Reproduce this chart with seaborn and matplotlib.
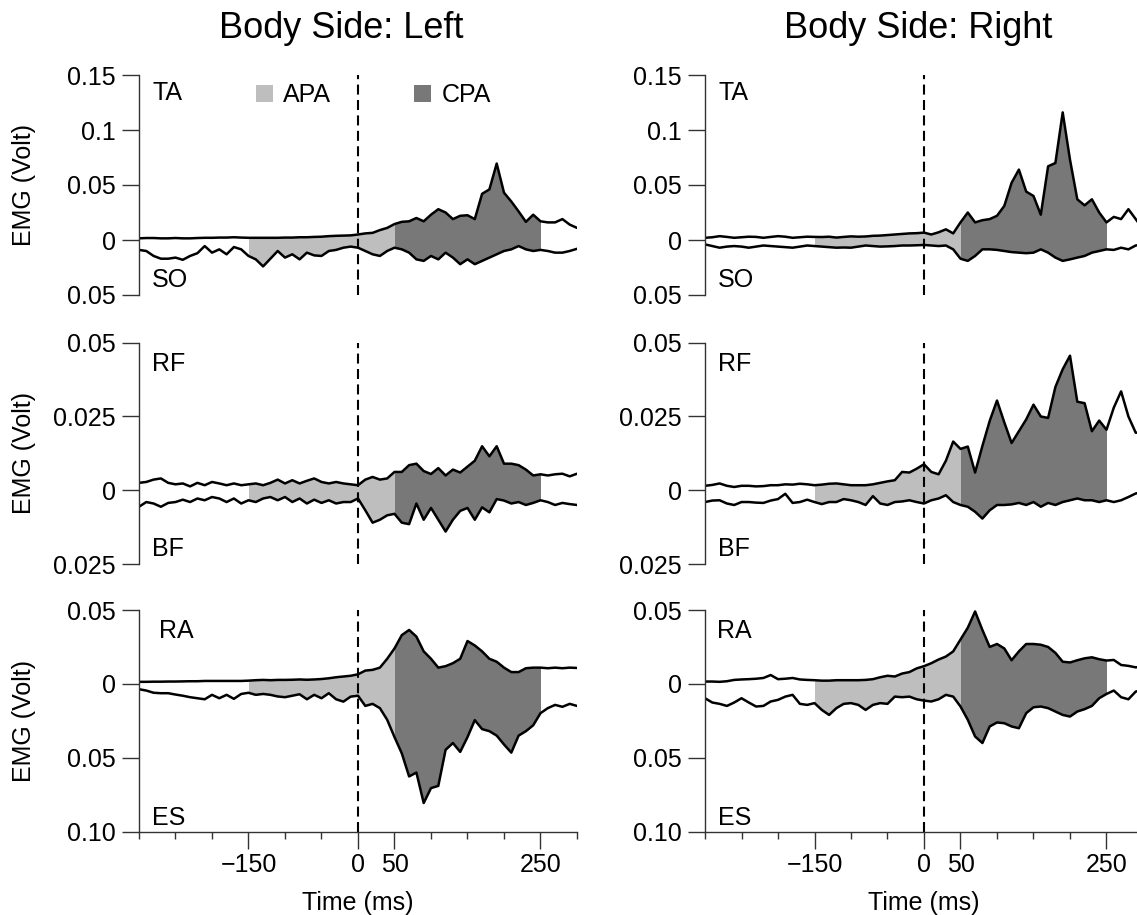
import numpy as np
import matplotlib
matplotlib.use("Agg")
import matplotlib.pyplot as plt
import seaborn as sns
from matplotlib.patches import Patch

# time axis (ms), one value every 10 ms
time_ms = np.arange(-300, 301, 10)

# EMG envelopes (Volt); lower muscles stored as magnitudes
TA_L = [.0015, .0018, .0018, .0015, .0015, .0018, .0015, .0015, .0018, .0020,
        .0020, .0022, .0022, .0025, .0022, .0020, .0020, .0020, .0020, .0020,
        .0022, .0022, .0025, .0025, .0028, .0030, .0035, .0038, .0040, .0042,
        .0050, .0060, .0065, .0090, .0110, .0145, .0165, .0170, .0200, .0170,
        .0230, .0280, .0250, .0190, .0220, .0225, .0190, .0420, .0460, .0695,
        .0430, .0350, .0260, .0165, .0230, .0170, .0160, .0160, .0190, .0140,
        .0110]
SO_L = [.0090, .0100, .0145, .0170, .0170, .0160, .0180, .0145, .0120, .0055,
        .0115, .0085, .0130, .0064, .0085, .0145, .0176, .0240, .0170, .0100,
        .0160, .0130, .0176, .0115, .0140, .0145, .0100, .0090, .0070, .0060,
        .0070, .0100, .0130, .0145, .0100, .0070, .0085, .0115, .0176, .0190,
        .0145, .0176, .0115, .0160, .0220, .0176, .0220, .0190, .0160, .0130,
        .0100, .0085, .0055, .0085, .0100, .0090, .0100, .0115, .0115, .0100,
        .0080]
TA_R = [.0020, .0025, .0035, .0028, .0020, .0025, .0030, .0028, .0020, .0028,
        .0035, .0030, .0020, .0025, .0030, .0028, .0027, .0030, .0022, .0028,
        .0033, .0030, .0032, .0038, .0040, .0045, .0050, .0055, .0060, .0062,
        .0067, .0050, .0070, .0097, .0060, .0160, .0250, .0160, .0180, .0190,
        .0220, .0310, .0520, .0640, .0440, .0400, .0230, .0670, .0700, .1160,
        .0730, .0370, .0315, .0370, .0250, .0160, .0210, .0190, .0280, .0190,
        .0100]
SO_R = [.0040, .0055, .0070, .0060, .0055, .0060, .0070, .0060, .0050, .0055,
        .0060, .0065, .0070, .0060, .0050, .0055, .0060, .0065, .0070, .0068,
        .0070, .0060, .0050, .0055, .0060, .0058, .0055, .0050, .0050, .0048,
        .0045, .0050, .0055, .0050, .0085, .0170, .0190, .0145, .0085, .0085,
        .0090, .0100, .0110, .0115, .0120, .0115, .0085, .0115, .0160, .0190,
        .0176, .0160, .0145, .0115, .0100, .0085, .0090, .0070, .0085, .0050,
        .0040]

RF_L = [.0025, .0028, .0036, .0040, .0025, .0020, .0023, .0013, .0025, .0017,
        .0028, .0023, .0017, .0023, .0017, .0020, .0023, .0017, .0025, .0036,
        .0023, .0034, .0023, .0032, .0040, .0028, .0023, .0028, .0023, .0020,
        .0017, .0036, .0045, .0036, .0040, .0062, .0062, .0085, .0090, .0065,
        .0055, .0075, .0050, .0070, .0060, .0080, .0100, .0149, .0115, .0149,
        .0090, .0090, .0085, .0070, .0050, .0054, .0050, .0054, .0056, .0047,
        .0056]
BF_L = [.0056, .0040, .0045, .0056, .0043, .0040, .0032, .0040, .0028, .0034,
        .0023, .0028, .0040, .0028, .0045, .0034, .0040, .0028, .0023, .0034,
        .0023, .0040, .0028, .0045, .0032, .0043, .0034, .0045, .0040, .0040,
        .0028, .0068, .0110, .0100, .0085, .0080, .0110, .0115, .0045, .0100,
        .0060, .0100, .0140, .0100, .0070, .0060, .0100, .0058, .0075, .0030,
        .0035, .0045, .0040, .0050, .0043, .0034, .0040, .0050, .0043, .0047,
        .0050]
RF_R = [.0015, .0018, .0023, .0015, .0011, .0015, .0015, .0013, .0014, .0017,
        .0017, .0020, .0019, .0022, .0020, .0017, .0019, .0022, .0023, .0020,
        .0017, .0017, .0017, .0020, .0025, .0030, .0034, .0062, .0060, .0073,
        .0088, .0062, .0054, .0100, .0165, .0140, .0148, .0060, .0150, .0235,
        .0304, .0230, .0160, .0200, .0240, .0290, .0250, .0245, .0350, .0410,
        .0456, .0300, .0295, .0200, .0236, .0205, .0280, .0335, .0250, .0195,
        .0195]
BF_R = [.0040, .0035, .0034, .0045, .0050, .0040, .0040, .0042, .0043, .0035,
        .0030, .0012, .0043, .0040, .0032, .0040, .0047, .0040, .0040, .0030,
        .0034, .0040, .0050, .0020, .0045, .0050, .0040, .0038, .0034, .0040,
        .0045, .0034, .0028, .0017, .0040, .0050, .0056, .0073, .0096, .0068,
        .0050, .0050, .0048, .0043, .0050, .0040, .0056, .0043, .0050, .0040,
        .0034, .0028, .0034, .0034, .0040, .0034, .0040, .0034, .0023, .0011,
        .0006]

RA_L = [.0014, .0014, .0015, .0015, .0016, .0016, .0017, .0018, .0018, .0020,
        .0020, .0020, .0020, .0020, .0020, .0022, .0025, .0027, .0025, .0027,
        .0027, .0028, .0030, .0028, .0030, .0033, .0038, .0045, .0050, .0055,
        .0065, .0090, .0095, .0110, .0170, .0240, .0330, .0365, .0320, .0220,
        .0170, .0110, .0120, .0140, .0170, .0290, .0260, .0220, .0170, .0150,
        .0110, .0080, .0080, .0106, .0110, .0110, .0106, .0110, .0106, .0110,
        .0108]
ES_L = [.0036, .0045, .0060, .0063, .0063, .0072, .0080, .0090, .0097, .0104,
        .0074, .0097, .0074, .0101, .0068, .0060, .0074, .0068, .0074, .0085,
        .0090, .0080, .0070, .0104, .0074, .0097, .0063, .0104, .0120, .0086,
        .0080, .0149, .0135, .0164, .0243, .0360, .0470, .0626, .0600, .0806,
        .0705, .0690, .0446, .0400, .0460, .0360, .0245, .0306, .0320, .0350,
        .0410, .0465, .0350, .0320, .0280, .0198, .0164, .0142, .0155, .0135,
        .0149]
RA_R = [.0016, .0016, .0014, .0018, .0027, .0030, .0032, .0035, .0040, .0060,
        .0032, .0035, .0040, .0030, .0027, .0025, .0022, .0022, .0025, .0025,
        .0025, .0025, .0027, .0032, .0045, .0055, .0050, .0070, .0080, .0105,
        .0120, .0140, .0165, .0185, .0220, .0300, .0380, .0490, .0365, .0250,
        .0270, .0240, .0160, .0220, .0270, .0270, .0265, .0250, .0210, .0150,
        .0145, .0160, .0173, .0180, .0167, .0158, .0162, .0128, .0122, .0112,
        .0117]
ES_R = [.0097, .0126, .0135, .0149, .0126, .0097, .0126, .0153, .0149, .0119,
        .0108, .0086, .0074, .0135, .0142, .0130, .0176, .0210, .0164, .0135,
        .0130, .0142, .0176, .0142, .0130, .0135, .0086, .0090, .0086, .0104,
        .0113, .0119, .0104, .0074, .0086, .0153, .0243, .0356, .0400, .0288,
        .0261, .0266, .0288, .0300, .0198, .0158, .0153, .0164, .0187, .0210,
        .0221, .0187, .0171, .0149, .0097, .0068, .0045, .0090, .0104, .0052,
        .0040]

sides = ["Left", "Right"]
muscle_pairs = [("TA", "SO"), ("RF", "BF"), ("RA", "ES")]
upper_data = [[TA_L, TA_R], [RF_L, RF_R], [RA_L, RA_R]]
lower_data = [[SO_L, SO_R], [BF_L, BF_R], [ES_L, ES_R]]
y_limits = [(-0.05, 0.15), (-0.025, 0.05), (-0.10, 0.05)]
y_ticks = [[-0.05, 0, 0.05, 0.1, 0.15], [-0.025, 0, 0.025, 0.05], [-0.10, -0.05, 0, 0.05]]
y_ticklabels = [["0.05", "0", "0.05", "0.1", "0.15"],
                ["0.025", "0", "0.025", "0.05"],
                ["0.10", "0.05", "0", "0.05"]]
x_major = [-150, 0, 50, 250]
x_major_labels = ["\u2212150", "0", "50", "250"]
x_minor = [-300, -250, -200, -100, -50, 100, 150, 200, 300]
apa_window = (-150, 50)
cpa_window = (50, 250)

APA_COLOR = "#bebebe"
CPA_COLOR = "#787878"
AXIS_COLOR = "#333333"
FS = 18

sns.set_theme(style="ticks")
plt.rcParams["font.family"] = ["Liberation Sans", "DejaVu Sans"]
plt.rcParams["text.color"] = "black"
plt.rcParams["axes.labelcolor"] = "black"
plt.rcParams["xtick.labelcolor"] = "black"
plt.rcParams["ytick.labelcolor"] = "black"

fig = plt.figure(figsize=(11.37, 9.15), dpi=100)
W, H = 1137, 915
col_x = [139, 705]
ax_w = 438
row_top = [75, 342.7, 610]
row_bot = [295, 564, 831.7]
label_x = [[0.03, 0.03], [0.03, 0.03], [0.046, 0.027]]
upper_y = [0.918, 0.906, 0.907]
lower_y = [0.068, 0.07, 0.064]

for r in range(3):
    for c in range(2):
        ax = fig.add_axes([col_x[c] / W, 1 - row_bot[r] / H,
                           ax_w / W, (row_bot[r] - row_top[r]) / H])
        up = np.array(upper_data[r][c])
        low = -np.array(lower_data[r][c])

        in_apa = (time_ms >= apa_window[0]) & (time_ms <= apa_window[1])
        in_cpa = (time_ms >= cpa_window[0]) & (time_ms <= cpa_window[1])
        ax.fill_between(time_ms, low, up, where=in_apa, color=APA_COLOR, lw=0)
        ax.fill_between(time_ms, low, up, where=in_cpa, color=CPA_COLOR, lw=0)

        sns.lineplot(x=time_ms, y=up, ax=ax, color="black", linewidth=1.8, estimator=None)
        sns.lineplot(x=time_ms, y=low, ax=ax, color="black", linewidth=1.8, estimator=None)
        ax.axvline(0, color="black", lw=1.5, ls=(0, (4.8, 2.6)))

        ax.set_xlim(-300, 300)
        ax.set_ylim(*y_limits[r])
        ax.set_yticks(y_ticks[r])
        ax.set_yticklabels(y_ticklabels[r])

        sns.despine(ax=ax, bottom=(r < 2))
        for side in ["left", "bottom"]:
            ax.spines[side].set_color(AXIS_COLOR)
            ax.spines[side].set_linewidth(1.0)
        ax.tick_params(axis="y", length=12.5, width=1.0, color=AXIS_COLOR,
                       pad=4, labelsize=FS, labelcolor="black")

        if r == 2:
            ax.set_xticks(x_major)
            ax.set_xticklabels(x_major_labels)
            ax.set_xticks(x_minor, minor=True)
            ax.tick_params(axis="x", which="major", length=12, width=1.0,
                           color=AXIS_COLOR, pad=3.5, labelsize=FS, labelcolor="black")
            ax.tick_params(axis="x", which="minor", length=5, width=1.0,
                           color=AXIS_COLOR)
            ax.set_xlabel("Time (ms)", fontsize=FS, labelpad=10)
        else:
            ax.set_xticks([])
            ax.set_xlabel("")

        if c == 0:
            ax.set_ylabel("EMG (Volt)", fontsize=FS)
            ax.yaxis.set_label_coords(-0.236, 0.5)
        else:
            ax.set_ylabel("")

        ax.text(label_x[r][c], upper_y[r], muscle_pairs[r][0], transform=ax.transAxes,
                ha="left", va="center", fontsize=FS)
        ax.text(0.03, lower_y[r], muscle_pairs[r][1], transform=ax.transAxes,
                ha="left", va="center", fontsize=FS)

        if r == 0 and c == 0:
            handles = [Patch(facecolor=APA_COLOR, edgecolor="none"),
                       Patch(facecolor=CPA_COLOR, edgecolor="none")]
            ax.legend(handles, ["APA", "CPA"], ncol=2, frameon=False, loc="center",
                      bbox_to_anchor=(0.535, 0.907), fontsize=FS,
                      handlelength=0.7, handleheight=0.7, handletextpad=0.4,
                      columnspacing=3.3, borderpad=0, borderaxespad=0)

title_x = [341.5, 918]
for c in range(2):
    fig.text(title_x[c] / W, 1 - 38.3 / H, f"Body Side: {sides[c]}",
             ha="center", va="baseline", fontsize=26, color="black")

fig.savefig("out.png", dpi=100, facecolor="white")
